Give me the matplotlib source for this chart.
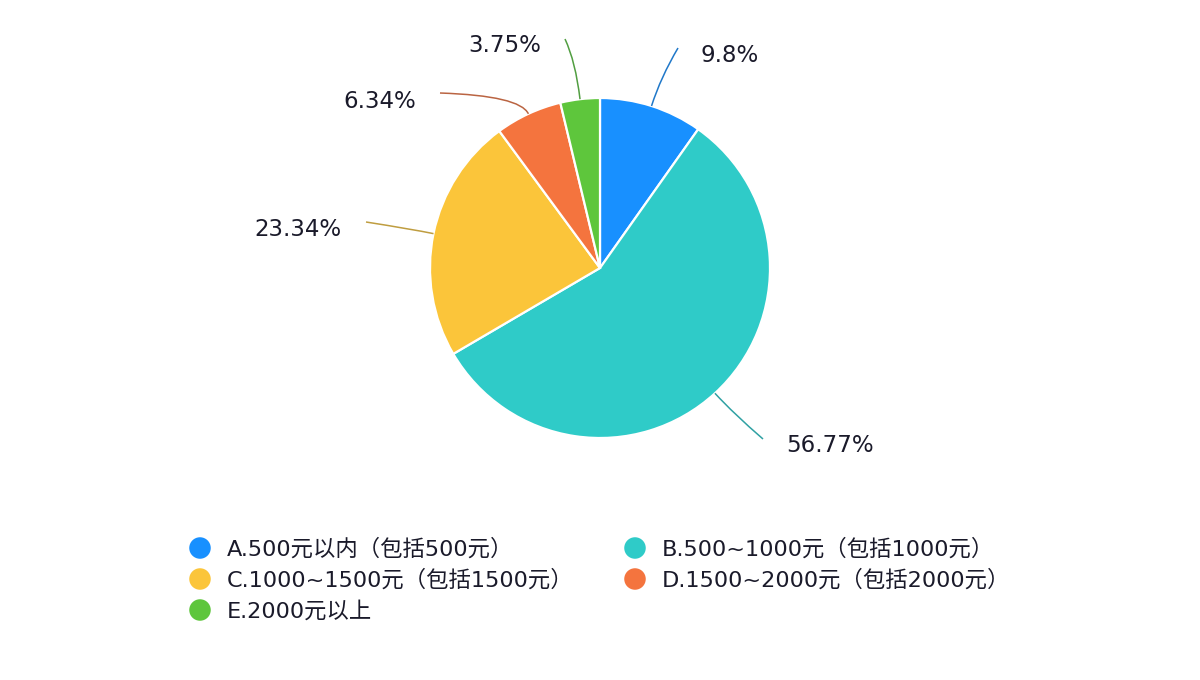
import numpy as np
import matplotlib
matplotlib.use("Agg")
import matplotlib.pyplot as plt
from matplotlib.path import Path
from matplotlib.patches import PathPatch
from matplotlib.colors import to_rgb

plt.rcParams['font.family'] = ['Noto Sans CJK SC', 'DejaVu Sans']

# ---- data ----
categories = ["A.500元以内（包括500元）", "B.500~1000元（包括1000元）",
              "C.1000~1500元（包括1500元）", "D.1500~2000元（包括2000元）",
              "E.2000元以上"]
values = [9.8, 56.77, 23.34, 6.34, 3.75]
value_labels = ["9.8%", "56.77%", "23.34%", "6.34%", "3.75%"]
colors = ["#1890ff", "#2fcbc8", "#fbc53a", "#f4743e", "#5ec63c"]

# ---- layout (pixel space) ----
W, H = 1200, 680
cx, cy, R = 600, 268, 170
leader_len = [30, 28, 22, 20, 38]
leader_end = [(678, 48), (763, 439), (366, 222), (440, 93), (565, 39)]
label_pos = [((700, 55), 'left'), ((786, 446), 'left'), ((341, 229), 'right'),
             ((416, 102), 'right'), ((541, 46), 'right')]


def darker(c, k=0.3):
    r = np.array(to_rgb(c))
    return tuple(r * (1 - k) + np.array([0.2, 0.25, 0.3]) * k)


fig = plt.figure(figsize=(W / 100, H / 100), dpi=100)
ax = fig.add_axes([0, 0, 1, 1])

wedges, _ = ax.pie(values, colors=colors, startangle=-90, counterclock=True,
                   center=(cx, cy), radius=R, frame=True,
                   wedgeprops=dict(edgecolor='white', linewidth=1.6))
ax.set_xlim(0, W)
ax.set_ylim(H, 0)
ax.set_aspect('equal')
ax.axis('off')

for w, col, lab, L, end, (tp, ha) in zip(wedges, colors, value_labels,
                                          leader_len, leader_end, label_pos):
    th = np.deg2rad((w.theta1 + w.theta2) / 2)
    d = np.array([np.cos(th), np.sin(th)])
    a = np.array([cx, cy]) + R * d
    c = a + L * d
    path = Path([tuple(a), tuple(c), end], [Path.MOVETO, Path.CURVE3, Path.CURVE3])
    ax.add_patch(PathPatch(path, facecolor='none', edgecolor=darker(col), lw=1.1))
    ax.text(tp[0], tp[1], lab, ha=ha, va='center', fontsize=16.5, color='#1a1a2a',
            family=['DejaVu Sans'])

# legend (row-major, 2 columns)
col_x = [200, 635]
row_y = [548, 579, 610]
for i, (cat, col) in enumerate(zip(categories, colors)):
    r, cix = divmod(i, 2)
    x, y = col_x[cix], row_y[r]
    ax.scatter([x], [y], s=240, color=col, edgecolors='none', zorder=3)
    ax.text(x + 27, y + 1, cat, ha='left', va='center', fontsize=16.1, color='#1a1a2a',
            family=['DejaVu Sans', 'Noto Sans CJK SC'])

fig.savefig("out.png", dpi=100, facecolor='white')
